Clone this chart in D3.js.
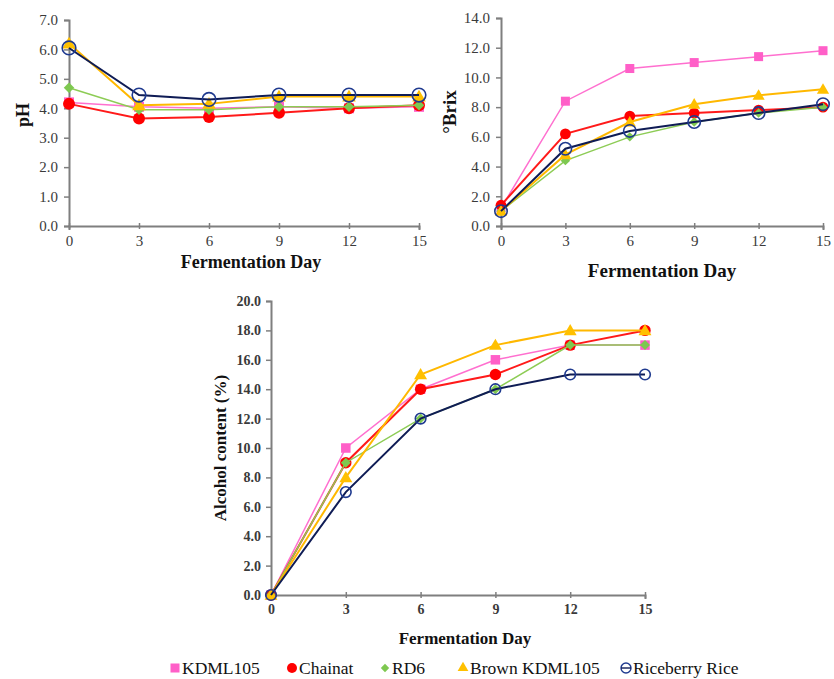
<!DOCTYPE html>
<html><head><meta charset="utf-8">
<script src="https://cdn.jsdelivr.net/npm/d3@7"></script>
<style>
body{margin:0;background:#fff;}
svg text{font-family:"Liberation Serif",serif !important;}
</style></head>
<body>
<script>
// ---------- DATA ----------
const days = [0, 3, 6, 9, 12, 15];
const seriesNames = ["KDML105", "Chainat", "RD6", "Brown KDML105", "Riceberry Rice"];

const phKDML105   = [4.2, 4.05, 4.0, 4.05, 4.0, 4.05];
const phChainat   = [4.15, 3.65, 3.7, 3.85, 4.0, 4.1];
const phRD6       = [4.7, 3.95, 3.95, 4.05, 4.05, 4.1];
const phBrown     = [6.2, 4.1, 4.15, 4.4, 4.4, 4.4];
const phRiceberry = [6.05, 4.45, 4.3, 4.45, 4.45, 4.45];

const brixKDML105   = [1.2, 8.4, 10.6, 11.0, 11.4, 11.8];
const brixChainat   = [1.4, 6.2, 7.4, 7.6, 7.8, 8.0];
const brixRD6       = [1.0, 4.4, 6.0, 7.0, 7.6, 8.0];
const brixBrown     = [1.0, 4.8, 7.0, 8.2, 8.8, 9.2];
const brixRiceberry = [1.0, 5.2, 6.4, 7.0, 7.6, 8.2];

const alcKDML105   = [0, 10, 14, 16, 17, 17];
const alcChainat   = [0, 9, 14, 15, 17, 18];
const alcRD6       = [0, 9, 12, 14, 17, 17];
const alcBrown     = [0, 8, 15, 17, 18, 18];
const alcRiceberry = [0, 7, 12, 14, 15, 15];

const phTicks   = [0, 1, 2, 3, 4, 5, 6, 7];
const brixTicks = [0, 2, 4, 6, 8, 10, 12, 14];
const alcTicks  = [0, 2, 4, 6, 8, 10, 12, 14, 16, 18, 20];

// ---------- STYLE ----------
const styles = [
  {line: "#ff6fcf", fill: "#ff5fc8", stroke: "#ff5fc8", shape: "square", lw: 1.5},
  {line: "#ff1a1a", fill: "#ff0000", stroke: "#ff0000", shape: "circle", lw: 2},
  {line: "#8dcc55", fill: "#7ec850", stroke: "#7ec850", shape: "diamond", lw: 1.5},
  {line: "#ffb800", fill: "#ffc000", stroke: "#ffc000", shape: "triangle", lw: 2},
  {line: "#0f1c55", fill: "none", stroke: "#1f3a8f", shape: "open", lw: 2}
];

const W = 834, H = 679;
const FONT = "'Liberation Serif', serif";
const svg = d3.select("body").append("svg").attr("width", W).attr("height", H)
  .style("display", "block").attr("font-family", FONT);

function marker(g, shape, st, x, y, k, ring) {
  if (shape === "square") {
    const s = 10 * k;
    g.append("rect").attr("x", x - s/2).attr("y", y - s/2).attr("width", s).attr("height", s).attr("fill", st.fill);
  } else if (shape === "circle") {
    g.append("circle").attr("cx", x).attr("cy", y).attr("r", 6 * k).attr("fill", st.fill);
  } else if (shape === "diamond") {
    g.append("path").attr("d", d3.symbol(d3.symbolDiamond2, 70 * k * k)()).attr("transform", `translate(${x},${y})`).attr("fill", st.fill);
  } else if (shape === "triangle") {
    g.append("path").attr("d", d3.symbol(d3.symbolTriangle, 80 * k * k)()).attr("transform", `translate(${x},${y + 1})`).attr("fill", st.fill);
  } else {
    g.append("circle").attr("cx", x).attr("cy", y).attr("r", ring).attr("fill", "none").attr("stroke", st.stroke).attr("stroke-width", 1.6);
  }
}

function drawChart(opts) {
  const x = d3.scaleLinear().domain([0, 15]).range([opts.x0, opts.x1]);
  const y = d3.scaleLinear().domain([0, opts.ymax]).range([opts.y0, opts.y1]);
  const g = svg.append("g");

  const ya = g.append("g").attr("transform", `translate(${opts.x0},0)`)
    .call(d3.axisLeft(y).tickValues(opts.yTicks).tickFormat(d3.format(".1f")).tickSize(5).tickPadding(opts.ypad));
  const xa = g.append("g").attr("transform", `translate(0,${opts.y0})`)
    .call(d3.axisBottom(x).tickValues(days).tickFormat(d3.format("d")).tickSize(4).tickPadding(opts.xpad));
  [ya, xa].forEach(a => {
    a.attr("font-family", FONT).attr("font-size", opts.tickFont);
    a.select(".domain").attr("stroke", "#7f7f7f").attr("stroke-width", 2);
    a.selectAll(".tick line").attr("stroke", "#7f7f7f").attr("stroke-width", 1.5);
    a.selectAll("text").attr("fill", "#3a3a3a")
      .style("font-size", opts.tickFont + "px").style("font-weight", opts.tickWeight);
  });
  xa.selectAll(".tick line").attr("y1", -3).attr("y2", 3);

  g.append("text").attr("x", opts.xtx).attr("y", opts.xty).attr("text-anchor", "middle")
    .style("font-weight", "bold").style("font-size", opts.titleFont + "px").attr("fill", "#111")
    .text("Fermentation Day");
  g.append("text").attr("transform", `translate(${opts.ytx},${opts.yty}) rotate(-90)`)
    .attr("text-anchor", "middle").style("font-weight", "bold").style("font-size", opts.titleFont + "px").attr("fill", "#111")
    .text(opts.ytitle);

  const line = d3.line().x((d, i) => x(days[i])).y(d => y(d));
  opts.series.forEach((vals, si) => {
    const st = styles[si];
    const sg = g.append("g");
    sg.append("path").attr("d", line(vals)).attr("fill", "none").attr("stroke", st.line).attr("stroke-width", st.lw);
    vals.forEach((v, i) => marker(sg, st.shape, st, x(days[i]), y(v), opts.mk, opts.ring));
  });
}

drawChart({
  x0: 69, x1: 419, y0: 226, y1: 20, ymax: 7, yTicks: phTicks,
  series: [phKDML105, phChainat, phRD6, phBrown, phRiceberry],
  ytitle: "pH", ytx: 29, yty: 115, xtx: 251, xty: 268,
  tickFont: 15, tickWeight: "normal", titleFont: 18, ypad: 6, xpad: 5, mk: 1, ring: 6.8
});

drawChart({
  x0: 501, x1: 823, y0: 226, y1: 18, ymax: 14, yTicks: brixTicks,
  series: [brixKDML105, brixChainat, brixRD6, brixBrown, brixRiceberry],
  ytitle: "°Brix", ytx: 456, yty: 112, xtx: 662, xty: 277,
  tickFont: 15, tickWeight: "normal", titleFont: 19, ypad: 6, xpad: 5, mk: 0.9, ring: 6.2
});

drawChart({
  x0: 271, x1: 645, y0: 595, y1: 301, ymax: 20, yTicks: alcTicks,
  series: [alcKDML105, alcChainat, alcRD6, alcBrown, alcRiceberry],
  ytitle: "Alcohol content (%)", ytx: 226, yty: 448, xtx: 465, xty: 644,
  tickFont: 14, tickWeight: "bold", titleFont: 17, ypad: 5, xpad: 5, mk: 0.95, ring: 5.3
});

// legend
const legendX = [175, 292, 385, 463, 626];
const leg = svg.append("g");
seriesNames.forEach((name, i) => {
  const st = styles[i];
  const cx = legendX[i], cy = 668;
  if (st.shape === "square") leg.append("rect").attr("x", cx - 4.5).attr("y", cy - 4.5).attr("width", 9).attr("height", 9).attr("fill", st.fill);
  else if (st.shape === "circle") leg.append("circle").attr("cx", cx).attr("cy", cy).attr("r", 5).attr("fill", st.fill);
  else if (st.shape === "diamond") leg.append("path").attr("d", d3.symbol(d3.symbolDiamond2, 45)()).attr("transform", `translate(${cx},${cy})`).attr("fill", st.fill);
  else if (st.shape === "triangle") leg.append("path").attr("d", d3.symbol(d3.symbolTriangle, 50)()).attr("transform", `translate(${cx},${cy})`).attr("fill", st.fill);
  else {
    leg.append("circle").attr("cx", cx).attr("cy", cy).attr("r", 5).attr("fill", "none").attr("stroke", st.stroke).attr("stroke-width", 1.4);
    leg.append("line").attr("x1", cx - 5).attr("x2", cx + 5).attr("y1", cy).attr("y2", cy).attr("stroke", st.line).attr("stroke-width", 1.4);
  }
  leg.append("text").attr("x", cx + 7).attr("y", cy + 6).style("font-size", "17.5px").attr("fill", "#111").text(name);
});
</script>
</body></html>
